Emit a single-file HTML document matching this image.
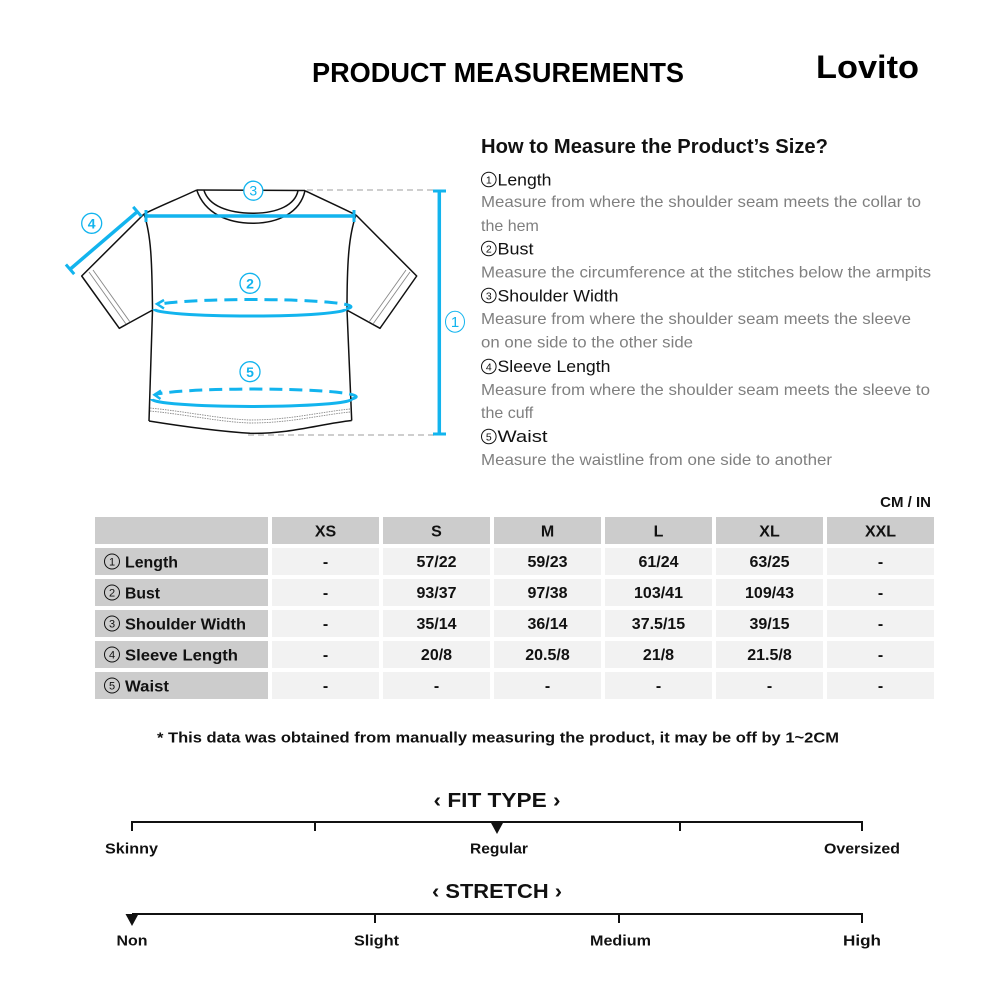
<!DOCTYPE html>
<html><head><meta charset="utf-8"><style>
html,body{margin:0;padding:0;background:#fff;}
svg{display:block;}
text{font-family:"Liberation Sans",Arial,sans-serif;}
</style></head><body>
<svg width="1000" height="1000" viewBox="0 0 1000 1000" xmlns="http://www.w3.org/2000/svg">
<rect width="1000" height="1000" fill="#fff"/>
<!-- Header -->
<text x="312" y="82" font-size="28" font-weight="bold" fill="#000" textLength="372" lengthAdjust="spacingAndGlyphs">PRODUCT MEASUREMENTS</text>
<text x="816" y="78" font-size="32" font-weight="bold" fill="#000" textLength="103" lengthAdjust="spacingAndGlyphs">Lovito</text>

<!-- T-shirt outline -->
<g fill="none" stroke="#111" stroke-width="1.5" stroke-linejoin="round">
  <path d="M196.7,190 L305,190.5"/>
  <path d="M196.7,190 C205,214 228,223 253,223.3 C278,223 300,213 305,190.7"/>
  <path d="M204,190.5 C209,206 228,213 253,213.3 C278,213 295,205 298,190.7"/>
  <path d="M196.7,190 C180,198 160,206 144,214"/>
  <path d="M305,190.7 C320,198 340,207 356,215"/>
  <path d="M144,214 L81.7,276 L119.3,328.3 L152.7,310"/>
  <path d="M356,215 L416.7,276 L380,328.3 L346.7,310"/>
  <path d="M144,214 C151,235 152,260 152.5,310 L149,421"/>
  <path d="M356,215 C349,235 347,260 347,310 L351.7,420.5"/>
  <path d="M149,421 C180,426 215,431 250,433.3 C290,434 320,424 351.7,420.5"/>
</g>
<g fill="none" stroke="#888" stroke-width="0.9">
  <path d="M89,272 L126,324"/>
  <path d="M93,270 L130,322"/>
  <path d="M410,272 L373,324"/>
  <path d="M406,270 L369,322"/>
  <path d="M150,408 C190,412 220,419 250,420 C290,420 320,412 350,409" stroke-dasharray="1.5 1"/>
  <path d="M150,411 C190,415 220,422 250,423 C290,423 320,415 350,412" stroke-dasharray="1.5 1"/>
</g>

<!-- Gray dashed guide lines -->
<g stroke="#bdbdbd" stroke-width="1.6" stroke-dasharray="6 4" fill="none">
  <path d="M307,190 L436,190"/>
  <path d="M248,435 L436,435"/>
</g>

<!-- Blue measurement lines -->
<g stroke="#12b4ee" fill="none" stroke-linecap="butt">
  <path d="M145,216 L355,216" stroke-width="3.5"/>
  <path d="M146,210 L146,222 M354,210 L354,222" stroke-width="3"/>
  <path d="M137.3,211.7 L70,269.3" stroke-width="3.5"/>
  <path d="M141.5,216.5 L133.2,206.9 M74.2,274.1 L65.9,264.5" stroke-width="3"/>
  <path d="M439.3,191 L439.3,434" stroke-width="3.5"/>
  <path d="M433,191 L446,191 M433,434 L446,434" stroke-width="3"/>
  <!-- bust -->
  <path d="M154,309 A96,7 0 0 0 346,309" stroke-width="3"/>
  <path d="M346,309 A96,7 0 0 0 158,304.5" stroke-width="3" stroke-dasharray="13 7"/>
  <path d="M164,300 L157,304 L164,308.5" stroke-width="2.5"/>
  <!-- waist -->
  <path d="M151.7,399 A100,7.5 0 0 0 351.7,399" stroke-width="3"/>
  <path d="M351.7,399 A100,7.5 0 0 0 155,394.5" stroke-width="3" stroke-dasharray="13 7"/>
  <path d="M161,390.5 L154.5,394.8 L160.5,399" stroke-width="2.5"/>
</g>
<!-- circled labels -->
<g fill="#fff" stroke="#12b4ee" stroke-width="1.3">
  <circle cx="253.3" cy="190.7" r="9.5"/>
  <circle cx="91.7" cy="223.3" r="10"/>
  <circle cx="250" cy="283.3" r="10"/>
  <circle cx="250" cy="371.7" r="10"/>
  <ellipse cx="455" cy="321.7" rx="9.5" ry="10.5" stroke-width="1"/>
</g>
<g fill="#12b4ee" font-size="14" text-anchor="middle">
  <text x="253.3" y="195.7">3</text>
  <text x="91.7" y="228.5" font-weight="bold">4</text>
  <text x="250" y="288.5" font-weight="bold">2</text>
  <text x="250" y="377" font-weight="bold">5</text>
  <text x="455" y="327" font-size="15">1</text>
</g>

<!-- Right text -->
<text x="481" y="153" font-size="20" font-weight="bold" fill="#111" textLength="347" lengthAdjust="spacingAndGlyphs">How to Measure the Product’s Size?</text>
<g fill="none" stroke="#111" stroke-width="1">
  <circle cx="488.8" cy="179.5" r="7.3"/>
  <circle cx="488.8" cy="248.5" r="7.3"/>
  <circle cx="488.8" cy="295.5" r="7.3"/>
  <circle cx="488.8" cy="366.5" r="7.3"/>
  <circle cx="488.8" cy="436.5" r="7.3"/>
</g>
<g fill="#111" font-size="10.5" text-anchor="middle">
  <text x="488.8" y="183.3">1</text>
  <text x="488.8" y="252.3">2</text>
  <text x="488.8" y="299.3">3</text>
  <text x="488.8" y="370.3">4</text>
  <text x="488.8" y="440.3">5</text>
</g>
<g fill="#111" font-size="16.5">
  <text x="497.5" y="185.5" textLength="54" lengthAdjust="spacingAndGlyphs">Length</text>
  <text x="497.5" y="254.5" textLength="36" lengthAdjust="spacingAndGlyphs">Bust</text>
  <text x="497.5" y="301.5" textLength="121" lengthAdjust="spacingAndGlyphs">Shoulder Width</text>
  <text x="497.5" y="372" textLength="113" lengthAdjust="spacingAndGlyphs">Sleeve Length</text>
  <text x="497.5" y="442" textLength="50" lengthAdjust="spacingAndGlyphs">Waist</text>
</g>
<g fill="#7f7f7f" font-size="16">
  <text x="481" y="207" textLength="440" lengthAdjust="spacingAndGlyphs">Measure from where the shoulder seam meets the collar to</text>
  <text x="481" y="231">the hem</text>
  <text x="481" y="277.5" textLength="450" lengthAdjust="spacingAndGlyphs">Measure the circumference at the stitches below the armpits</text>
  <text x="481" y="324" textLength="430" lengthAdjust="spacingAndGlyphs">Measure from where the shoulder seam meets the sleeve</text>
  <text x="481" y="347.5" textLength="212" lengthAdjust="spacingAndGlyphs">on one side to the other side</text>
  <text x="481" y="395" textLength="449" lengthAdjust="spacingAndGlyphs">Measure from where the shoulder seam meets the sleeve to</text>
  <text x="481" y="418">the cuff</text>
  <text x="481" y="465" textLength="351" lengthAdjust="spacingAndGlyphs">Measure the waistline from one side to another</text>
</g>

<!-- Table -->
<text x="931" y="507" font-size="15" font-weight="bold" fill="#111" text-anchor="end">CM / IN</text>
<g fill="#cccccc">
  <rect x="95" y="517" width="173" height="27"/>
  <rect x="272" y="517" width="107" height="27"/>
  <rect x="383" y="517" width="107" height="27"/>
  <rect x="494" y="517" width="107" height="27"/>
  <rect x="605" y="517" width="107" height="27"/>
  <rect x="716" y="517" width="107" height="27"/>
  <rect x="827" y="517" width="107" height="27"/>
  <rect x="95" y="548" width="173" height="27"/>
  <rect x="95" y="579" width="173" height="27"/>
  <rect x="95" y="610" width="173" height="27"/>
  <rect x="95" y="641" width="173" height="27"/>
  <rect x="95" y="672" width="173" height="27"/>
</g>
<g fill="#f2f2f2">
  <rect x="272" y="548" width="107" height="27"/><rect x="383" y="548" width="107" height="27"/><rect x="494" y="548" width="107" height="27"/><rect x="605" y="548" width="107" height="27"/><rect x="716" y="548" width="107" height="27"/><rect x="827" y="548" width="107" height="27"/>
  <rect x="272" y="579" width="107" height="27"/><rect x="383" y="579" width="107" height="27"/><rect x="494" y="579" width="107" height="27"/><rect x="605" y="579" width="107" height="27"/><rect x="716" y="579" width="107" height="27"/><rect x="827" y="579" width="107" height="27"/>
  <rect x="272" y="610" width="107" height="27"/><rect x="383" y="610" width="107" height="27"/><rect x="494" y="610" width="107" height="27"/><rect x="605" y="610" width="107" height="27"/><rect x="716" y="610" width="107" height="27"/><rect x="827" y="610" width="107" height="27"/>
  <rect x="272" y="641" width="107" height="27"/><rect x="383" y="641" width="107" height="27"/><rect x="494" y="641" width="107" height="27"/><rect x="605" y="641" width="107" height="27"/><rect x="716" y="641" width="107" height="27"/><rect x="827" y="641" width="107" height="27"/>
  <rect x="272" y="672" width="107" height="27"/><rect x="383" y="672" width="107" height="27"/><rect x="494" y="672" width="107" height="27"/><rect x="605" y="672" width="107" height="27"/><rect x="716" y="672" width="107" height="27"/><rect x="827" y="672" width="107" height="27"/>
</g>
<g fill="#111" font-size="16" font-weight="bold" text-anchor="middle">
  <text x="325.5" y="536.5">XS</text><text x="436.5" y="536.5">S</text><text x="547.5" y="536.5">M</text><text x="658.5" y="536.5">L</text><text x="769.5" y="536.5">XL</text><text x="880.5" y="536.5">XXL</text>
  <text x="325.5" y="567">-</text><text x="436.5" y="567">57/22</text><text x="547.5" y="567">59/23</text><text x="658.5" y="567">61/24</text><text x="769.5" y="567">63/25</text><text x="880.5" y="567">-</text>
  <text x="325.5" y="598">-</text><text x="436.5" y="598">93/37</text><text x="547.5" y="598">97/38</text><text x="658.5" y="598">103/41</text><text x="769.5" y="598">109/43</text><text x="880.5" y="598">-</text>
  <text x="325.5" y="629">-</text><text x="436.5" y="629">35/14</text><text x="547.5" y="629">36/14</text><text x="658.5" y="629">37.5/15</text><text x="769.5" y="629">39/15</text><text x="880.5" y="629">-</text>
  <text x="325.5" y="660">-</text><text x="436.5" y="660">20/8</text><text x="547.5" y="660">20.5/8</text><text x="658.5" y="660">21/8</text><text x="769.5" y="660">21.5/8</text><text x="880.5" y="660">-</text>
  <text x="325.5" y="691">-</text><text x="436.5" y="691">-</text><text x="547.5" y="691">-</text><text x="658.5" y="691">-</text><text x="769.5" y="691">-</text><text x="880.5" y="691">-</text>
</g>
<g fill="none" stroke="#111" stroke-width="1">
  <circle cx="112" cy="561.5" r="7.5"/>
  <circle cx="112" cy="592.5" r="7.5"/>
  <circle cx="112" cy="623.5" r="7.5"/>
  <circle cx="112" cy="654.5" r="7.5"/>
  <circle cx="112" cy="685.5" r="7.5"/>
</g>
<g fill="#111" font-size="11" text-anchor="middle">
  <text x="112" y="565.5">1</text>
  <text x="112" y="596.5">2</text>
  <text x="112" y="627.5">3</text>
  <text x="112" y="658.5">4</text>
  <text x="112" y="689.5">5</text>
</g>
<g fill="#111" font-size="16" font-weight="bold">
  <text x="125" y="567.5" textLength="53" lengthAdjust="spacingAndGlyphs">Length</text>
  <text x="125" y="598.5" textLength="35" lengthAdjust="spacingAndGlyphs">Bust</text>
  <text x="125" y="629.5" textLength="121" lengthAdjust="spacingAndGlyphs">Shoulder Width</text>
  <text x="125" y="660.5" textLength="113" lengthAdjust="spacingAndGlyphs">Sleeve Length</text>
  <text x="125" y="691.5" textLength="44" lengthAdjust="spacingAndGlyphs">Waist</text>
</g>

<!-- Footnote -->
<text x="498" y="742.5" font-size="15" font-weight="bold" fill="#111" text-anchor="middle" textLength="682" lengthAdjust="spacingAndGlyphs">* This data was obtained from manually measuring the product, it may be off by 1~2CM</text>

<!-- Fit type -->
<text x="497" y="807" font-size="20" font-weight="bold" fill="#111" text-anchor="middle" textLength="127" lengthAdjust="spacingAndGlyphs">‹ FIT TYPE ›</text>
<g stroke="#111" stroke-width="2" fill="none">
  <path d="M132,822 L862,822"/>
  <path d="M132,821 L132,831 M315,821 L315,831 M680,821 L680,831 M862,821 L862,831"/>
  <path d="M132,914 L862,914"/>
  <path d="M375,913 L375,923 M619,913 L619,923 M862,913 L862,923"/>
</g>
<path d="M490.5,822 L503.5,822 L497,834 Z" fill="#111"/>
<path d="M125.5,914 L138.5,914 L132,926 Z" fill="#111"/>
<g fill="#111" font-size="15" font-weight="bold" text-anchor="middle">
  <text x="131.5" y="853.5" textLength="53" lengthAdjust="spacingAndGlyphs">Skinny</text>
  <text x="499" y="853.5" textLength="58" lengthAdjust="spacingAndGlyphs">Regular</text>
  <text x="862" y="853.5" textLength="76" lengthAdjust="spacingAndGlyphs">Oversized</text>
</g>
<text x="497" y="898" font-size="20" font-weight="bold" fill="#111" text-anchor="middle" textLength="130" lengthAdjust="spacingAndGlyphs">‹ STRETCH ›</text>
<g fill="#111" font-size="15" font-weight="bold" text-anchor="middle">
  <text x="132" y="945.5" textLength="31" lengthAdjust="spacingAndGlyphs">Non</text>
  <text x="376.5" y="945.5" textLength="45" lengthAdjust="spacingAndGlyphs">Slight</text>
  <text x="620.5" y="945.5" textLength="61" lengthAdjust="spacingAndGlyphs">Medium</text>
  <text x="862" y="945.5" textLength="38" lengthAdjust="spacingAndGlyphs">High</text>
</g>
</svg>
</body></html>
